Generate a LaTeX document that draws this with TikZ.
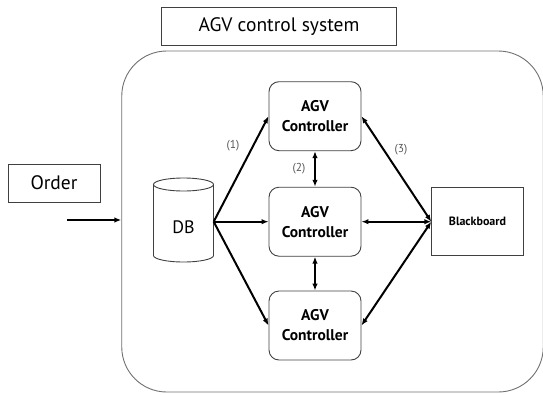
\documentclass[tikz,border=0pt]{standalone}
\usepackage{fontspec}
\setmainfont{PT Sans}
\usetikzlibrary{arrows.meta}
\definecolor{boxline}{HTML}{404040}
\definecolor{sysline}{HTML}{707070}
\definecolor{lbl}{HTML}{555555}
\tikzset{
  plainbox/.style={draw=boxline, line width=0.9pt, inner sep=0pt},
  ctrl/.style={draw=boxline, line width=0.9pt, rounded corners=10pt, minimum width=92pt, minimum height=69pt, inner sep=0pt, align=center, font=\fontsize{15.5}{20}\selectfont\bfseries},
  arr/.style={line width=2pt, -{Latex[length=7pt,width=5.5pt]}},
  darr/.style={line width=2pt, {Latex[length=7pt,width=5.5pt]}-{Latex[length=7pt,width=5.5pt]}},
  numlbl/.style={text=lbl, font=\fontsize{11.5}{13}\selectfont, inner sep=0pt}
}
\begin{document}
\begin{tikzpicture}[x=1pt,y=-1pt]
\useasboundingbox (0,0) rectangle (543,394);
% system container
\node[draw=sysline, line width=0.9pt, rounded corners=45pt, minimum width=421.5pt, minimum height=341pt, inner sep=0pt] (sys) at (332.5,221.5) {};
% title
\node[plainbox, minimum width=235pt, minimum height=38pt, font=\fontsize{19.5}{22}\selectfont] (title) at (279,26.5) {AGV control system};
% order
\node[plainbox, minimum width=92pt, minimum height=38pt, font=\fontsize{19.5}{22}\selectfont] (order) at (54,183) {Order};
\coordinate (ordstart) at (67,220);
\draw[arr] (ordstart) -- (ordstart -| sys.west);
% DB cylinder
\node[minimum width=60pt, minimum height=84pt, inner sep=0pt] (db) at (183.5,221.7) {};
\draw[boxline, line width=0.9pt] (153.5,184.5) -- (153.5,255.5) arc[start angle=180, end angle=360, x radius=30pt, y radius=6.5pt] -- (213.5,184.5);
\draw[boxline, line width=0.9pt] (183.5,184.5) ellipse[x radius=30pt, y radius=6.5pt];
\node[font=\fontsize{18}{20}\selectfont, inner sep=0pt] (dbtext) at (183.5,227) {DB};
% controllers
\node[ctrl] (c1) at (315,116.2) {AGV\\Controller};
\node[ctrl] (c2) at (315,221.7) {AGV\\Controller};
\node[ctrl] (c3) at (315,325.5) {AGV\\Controller};
% blackboard
\node[plainbox, minimum width=91.5pt, minimum height=68pt, font=\fontsize{12}{14}\selectfont\bfseries] (bb) at (477.5,221.7) {Blackboard};
% connectors
\draw[arr] (db.east) -- (c1.west);
\draw[arr] (db.east) -- (c2.west);
\draw[arr] (db.east) -- (c3.west);
\draw[darr] (c1.south) -- (c2.north);
\draw[darr] (c2.south) -- (c3.north);
\draw[darr] (bb.west) -- (c1.east);
\draw[darr] (bb.west) -- (c2.east);
\draw[darr] (bb.west) -- (c3.east);
% labels
\node[numlbl] (l1) at (233,146) {(1)};
\node[numlbl] (l2) at (299,169) {(2)};
\node[numlbl] (l3) at (401,150) {(3)};
\end{tikzpicture}
\end{document}
